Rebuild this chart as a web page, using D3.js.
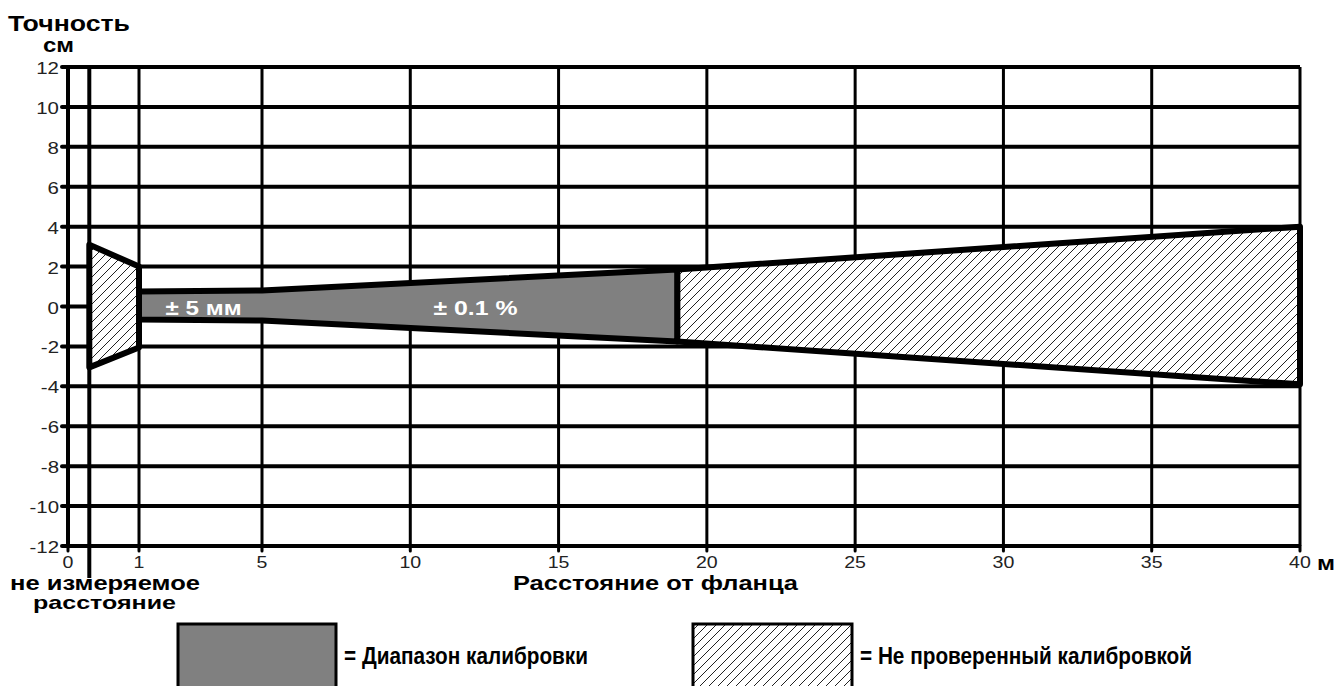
<!DOCTYPE html>
<html>
<head>
<meta charset="utf-8">
<script src="https://cdn.jsdelivr.net/npm/d3@7"></script>
<style>
  body { margin: 0; background: #fff; }
  text { font-family: "Liberation Sans", Arial, sans-serif; }
</style>
</head>
<body>
<div id="chart"></div>
<script>
// data
var yTicks = [12, 10, 8, 6, 4, 2, 0, -2, -4, -6, -8, -10, -12];
var xTicks = [0, 1, 5, 10, 15, 20, 25, 30, 35, 40];
var deadZone = 0.3;   // не измеряемое расстояние, м

// hatched start zone: [distance, +cm, -cm]
var startZone = [[0.3, 3.1, -3.05], [1, 2.0, -2.05]];
// calibrated band
var calibZone = [[1, 0.75, -0.65], [5, 0.8, -0.7], [19, 1.85, -1.75]];
// not verified
var openZone = [[19, 1.85, -1.75], [40, 4.0, -3.9]];

var bandLabels = [{x: 3.1, text: "± 5 мм", w: 76}, {x: 12.2, text: "± 0.1 %", w: 84}];

var W = 1339, H = 686;
var svg = d3.select("#chart").append("svg").attr("width", W).attr("height", H);

var x = d3.scaleLinear().domain([0, 1, 5, 40]).range([68, 139, 262, 1300]);
var y = d3.scaleLinear().domain([-12, 12]).range([546, 67]);

// the source picture is a bit stretched sideways, so texts get widened
function widen(sel, k) {
  sel.each(function() {
    var t = this.getComputedTextLength();
    d3.select(this).attr("textLength", t * k).attr("lengthAdjust", "spacingAndGlyphs");
  });
}
function fit(sel, w) {
  sel.attr("textLength", w).attr("lengthAdjust", "spacingAndGlyphs");
}

var defs = svg.append("defs");
var pat = defs.append("pattern").attr("id", "hatch").attr("patternUnits", "userSpaceOnUse")
  .attr("width", 9).attr("height", 9);
pat.append("rect").attr("width", 9).attr("height", 9).attr("fill", "#fff");
pat.append("path").attr("d", "M-1,1 l2,-2 M0,9 l9,-9 M8,10 l2,-2")
  .attr("stroke", "#222").attr("stroke-width", 1);

// grid
svg.selectAll(".hgrid").data(yTicks).enter().append("line")
  .attr("x1", x(0)).attr("x2", x(40))
  .attr("y1", function(d) { return y(d); }).attr("y2", function(d) { return y(d); })
  .attr("stroke", "#000").attr("stroke-width", 4);

svg.selectAll(".vgrid").data(xTicks).enter().append("line")
  .attr("x1", function(d) { return x(d); }).attr("x2", function(d) { return x(d); })
  .attr("y1", y(12)).attr("y2", y(-12))
  .attr("stroke", "#000").attr("stroke-width", function(d) { return d == 0 ? 4 : 3; });

svg.append("line").attr("x1", x(deadZone)).attr("x2", x(deadZone))
  .attr("y1", y(12) - 2).attr("y2", 578).attr("stroke", "#000").attr("stroke-width", 4);

// zones
function poly(pts) {
  var top = pts.map(function(p) { return [x(p[0]), y(p[1])]; });
  var bot = pts.slice().reverse().map(function(p) { return [x(p[0]), y(p[2])]; });
  return "M" + top.concat(bot).join("L") + "Z";
}

svg.append("path").attr("d", poly(startZone)).attr("fill", "url(#hatch)")
  .attr("stroke", "#000").attr("stroke-width", 6).attr("stroke-linejoin", "round");
svg.append("path").attr("d", poly(openZone)).attr("fill", "url(#hatch)")
  .attr("stroke", "#000").attr("stroke-width", 6).attr("stroke-linejoin", "round");
svg.append("path").attr("d", poly(calibZone)).attr("fill", "#808080")
  .attr("stroke", "#000").attr("stroke-width", 6).attr("stroke-linejoin", "round");

svg.selectAll(".blabel").data(bandLabels).enter().append("text")
  .attr("x", function(d) { return x(d.x) - d.w / 2; }).attr("y", y(0) + 8)
  .attr("fill", "#fff").style("font-weight", "bold").style("font-size", "21px")
  .attr("textLength", function(d) { return d.w; }).attr("lengthAdjust", "spacingAndGlyphs")
  .text(function(d) { return d.text; });

// y axis labels + ticks
svg.selectAll(".ytick").data(yTicks).enter().append("line")
  .attr("x1", x(0) - 6).attr("x2", x(0))
  .attr("y1", function(d) { return y(d); }).attr("y2", function(d) { return y(d); })
  .attr("stroke", "#000").attr("stroke-width", 4).attr("stroke-linecap", "round");
svg.selectAll(".ylab").data(yTicks).enter().append("text")
  .attr("x", 59).attr("y", function(d) { return y(d) + 7; })
  .attr("text-anchor", "end").style("font-size", "17px").attr("fill", "#222")
  .text(function(d) { return d; })
  .call(widen, 1.2);

// x axis labels + ticks
svg.selectAll(".xtick").data(xTicks).enter().append("line")
  .attr("x1", function(d) { return x(d); }).attr("x2", function(d) { return x(d); })
  .attr("y1", y(-12)).attr("y2", y(-12) + 5)
  .attr("stroke", "#000").attr("stroke-width", 3).attr("stroke-linecap", "round");
svg.selectAll(".xlab").data(xTicks).enter().append("text")
  .attr("x", function(d) { return x(d); }).attr("y", 568)
  .attr("text-anchor", "middle").style("font-size", "17px").attr("fill", "#222")
  .text(function(d) { return d; })
  .call(widen, 1.15);
svg.append("text").attr("x", x(40) + 17).attr("y", 570).style("font-size", "20px")
  .style("font-weight", "bold").text("м").call(fit, 18);

// titles
svg.append("text").attr("x", 8).attr("y", 31).style("font-size", "22px").style("font-weight", "bold")
  .text("Точность").call(fit, 122);
svg.append("text").attr("x", 43).attr("y", 52).style("font-size", "20px").style("font-weight", "bold")
  .text("см").call(fit, 31);
svg.append("text").attr("x", 513).attr("y", 590)
  .style("font-size", "21px").style("font-weight", "bold").text("Расстояние от фланца").call(fit, 285);
svg.append("text").attr("x", 10).attr("y", 590).style("font-size", "20px").style("font-weight", "bold")
  .text("не измеряемое").call(fit, 190);
svg.append("text").attr("x", 33).attr("y", 609)
  .style("font-size", "19px").style("font-weight", "bold").text("расстояние").call(fit, 143);

// legend
var legend = [
  {x: 178, w: 158, fill: "#808080", text: "= Диапазон калибровки"},
  {x: 693, w: 159, fill: "url(#hatch)", text: "= Не проверенный калибровкой"}
];
var lg = svg.selectAll(".leg").data(legend).enter().append("g");
lg.append("rect").attr("x", function(d) { return d.x; }).attr("y", 624)
  .attr("width", function(d) { return d.w; }).attr("height", 70)
  .attr("fill", function(d) { return d.fill; }).attr("stroke", "#000").attr("stroke-width", 3);
var lt = lg.append("text").attr("x", function(d) { return d.x + d.w + 8; }).attr("y", 664)
  .style("font-size", "24px").style("font-weight", "bold")
  .text(function(d) { return d.text; });
// same squeeze for both legend texts, taken from the first one (244 px wide in the source)
var k = 244 / lt.node().getComputedTextLength();
lt.call(widen, k);
</script>
</body>
</html>
